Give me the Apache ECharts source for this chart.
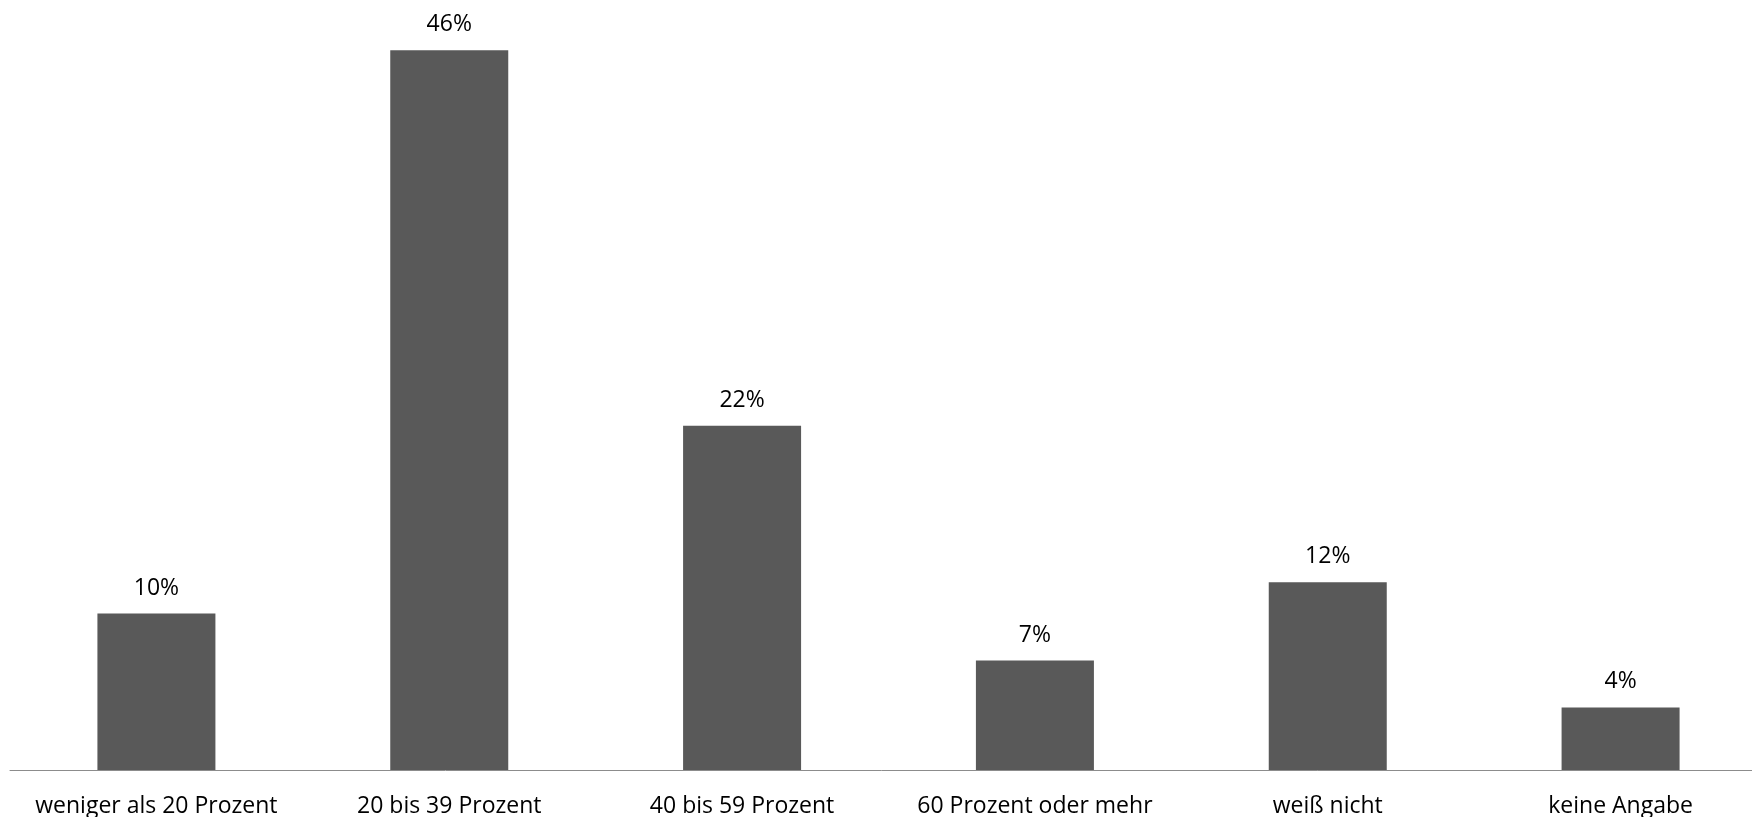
<!DOCTYPE html>
<html>
<head>
<meta charset="utf-8">
<script src="https://cdn.jsdelivr.net/npm/echarts@6/dist/echarts.min.js"></script>
<style>
  html, body { margin: 0; padding: 0; background: #ffffff; }
  #chart { width: 1752px; height: 817px; }
</style>
</head>
<body>
<div id="chart"></div>
<script>
// Antwortkategorien und Anteile in Prozent
const categories = ['weniger als 20 Prozent', '20 bis 39 Prozent', '40 bis 59 Prozent', '60 Prozent oder mehr', 'weiß nicht', 'keine Angabe'];
const shares = [10, 46, 22, 7, 12, 4];

const chart = echarts.init(document.getElementById('chart'), null, { renderer: 'canvas' });

const font = 'Open Sans, Liberation Sans, sans-serif';

chart.setOption({
  animation: false,
  backgroundColor: '#ffffff',
  // the plot area runs slightly past the right edge of the canvas
  grid: { left: 10, width: 1757, top: 19, height: 751, containLabel: false, outerBoundsMode: 'none' },
  xAxis: {
    type: 'category',
    data: categories,
    axisLine: { lineStyle: { color: '#8c8c8c', width: 1 } },
    axisTick: { show: false },
    axisLabel: { color: '#000000', fontFamily: font, fontSize: 23, margin: 25, interval: 0 }
  },
  yAxis: {
    type: 'value',
    min: 0,
    max: 48,
    show: false,
    splitLine: { show: false }
  },
  series: [{
    type: 'bar',
    data: shares,
    barWidth: 118,
    itemStyle: { color: '#595959' },
    label: {
      show: true,
      position: 'top',
      distance: 14,
      color: '#000000',
      fontFamily: font,
      fontSize: 23,
      formatter: p => p.value + '%'
    }
  }]
});
</script>
</body>
</html>
